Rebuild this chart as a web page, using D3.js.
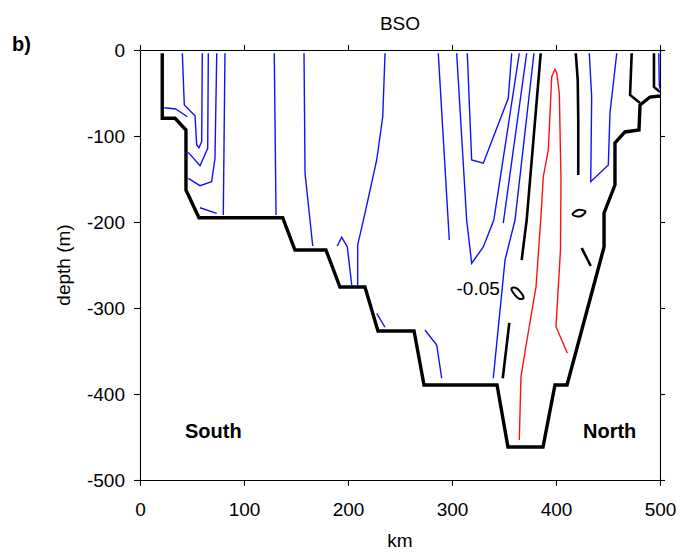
<meta charset="utf-8">
<html>
<head>
    <script src="https://d3js.org/d3.v7.min.js"></script>
    <style>
        body { margin: 0; background: #fff; }
        text { font-family: "Liberation Sans", Arial, sans-serif; }
    </style>
</head>
<body>
    <div id="chart"></div>
    <script>
        // axis ticks
        const xTicks = [0, 100, 200, 300, 400, 500];
        const yTicks = [0, -100, -200, -300, -400, -500];

        // bottom topography along the section [km, depth]
        const bathy = [
            [21.4, -3.8], [21.4, -79.4], [33.7, -79.4], [44.2, -93], [44.2, -162.8],
            [56.7, -195], [137.2, -195], [149, -232.6], [178.8, -232.6], [192.3, -275.6],
            [216.3, -275.6], [228.8, -326.7], [263.5, -326.7], [273.1, -389.5], [343.3, -389.5],
            [353.8, -461.6], [387.5, -461.6], [399, -389.5], [410.6, -389.5], [446.2, -229.1],
            [446.2, -189.5], [456.7, -157], [456.7, -108.1], [466.3, -95.3], [479.8, -93],
            [480.8, -64], [490.4, -54.7], [500, -53.5]
        ];

        // negative contours (blue)
        const blueLines = [
            [[40.7, -3.8], [42.6, -64], [52.9, -76.4], [54.5, -110.5], [56.7, -113.6], [59.3, -106.6], [59.9, -3.8]],
            [[65.7, -3.8], [65.1, -114.3], [57.7, -134.5], [46.4, -119]],
            [[73.8, -3.8], [72.1, -125.9], [68.9, -153.1], [57.7, -157.8], [46.4, -149.2]],
            [[23.4, -67.1], [34.3, -68.6], [45.5, -77.6]],
            [[81.7, -3.8], [80.1, -191.9]],
            [[57.7, -183.4], [73.8, -189.9]],
            [[129.1, -3.8], [130.8, -191.9]],
            [[157.7, -3.8], [158.7, -143.4], [166.1, -227.9]],
            [[235.6, -3.8], [233.4, -77.6], [227.6, -127.9], [216.3, -189.9], [209.3, -226.7], [209.3, -273.3]],
            [[189.7, -227.9], [193.9, -217.8], [199.3, -228.7], [203.6, -273.3]],
            [[227.6, -306.2], [235.6, -322.4]],
            [[274, -325.6], [285.3, -343], [290.1, -381.7]],
            [[286.8, -3.8], [297.4, -220.9]],
            [[304.5, -3.8], [314.1, -197.7], [318.9, -248], [330.1, -229.1], [340.2, -197.7], [364.7, -3.8]],
            [[314.7, -3.8], [318.9, -127.9], [330.1, -131.7], [354.1, -56.2], [357.4, -3.8]],
            [[371.8, -3.8], [349.3, -201.2]],
            [[378.8, -3.8], [360.6, -197.7], [351, -244.2], [346.2, -302.3], [339.7, -381.7]],
            [[432, -3.8], [434.3, -54.7], [433.4, -153.1], [450.3, -133.7], [451.9, -73.3], [458.4, -3.8]],
            [[498.8, -3.8], [499.3, -40.7], [500, -45.3]]
        ];

        // positive contour (red)
        const redLine = [
            [364.7, -453.5], [366.3, -379.9], [372.1, -337.2], [380.8, -275.2], [385.3, -197.7],
            [387.8, -147.3], [392.6, -116.3], [395.9, -31], [399, -22.4], [400.7, -26.7],
            [403.2, -50.3], [404.8, -151.2], [404.3, -232.6], [400, -321.7], [410.9, -352.7]
        ];

        // zero contour pieces (black)
        const blackLines = [
            [[385.3, -3.8], [371.8, -197.7], [367, -244.2]],
            [[355.1, -317.4], [348.8, -381.7]],
            [[419, -3.8], [420.9, -34.9], [421.4, -81.4], [421.4, -145.3]],
            [[424.7, -230.2], [433.4, -251.2]],
            [[472.8, -3.8], [471.2, -52.3], [480.8, -61.6]],
            [[494.2, -3.8], [494.2, -43], [500, -48.8]]
        ];
        const blackLoops = [
            [[357.2, -277.3], [361.5, -276.7], [366.8, -283.1], [368.8, -288.4], [364.4, -289], [359.1, -282.6]],
            [[415.9, -191.3], [421.2, -186], [428.4, -187.8], [423.1, -193.6]]
        ];

        const W = 681, H = 552;
        const margin = { top: 50, right: 21, bottom: 72, left: 140 },
            width = W - margin.left - margin.right,
            height = H - margin.top - margin.bottom;

        const svg = d3.select("#chart").append("svg")
            .attr("width", W).attr("height", H);
        const g = svg.append("g")
            .attr("transform", "translate(" + margin.left + "," + margin.top + ")");

        const x = d3.scaleLinear().domain([0, 500]).range([0, width]);
        const y = d3.scaleLinear().domain([-500, 0]).range([height, 0]);

        const line = d3.line().x(d => x(d[0])).y(d => y(d[1]));
        const loop = d3.line().x(d => x(d[0])).y(d => y(d[1])).curve(d3.curveCardinalClosed);

        // frame with ticks on all sides (plain hyphen for negatives)
        const fontSize = 19;
        const plain = d => String(d);
        g.append("g").attr("transform", `translate(0,${height})`)
            .call(d3.axisBottom(x).tickValues(xTicks).tickFormat(plain).tickSize(6).tickSizeOuter(0).tickPadding(17))
            .attr("font-size", fontSize).attr("font-family", "Liberation Sans, Arial, sans-serif");
        g.append("g")
            .call(d3.axisLeft(y).tickValues(yTicks).tickFormat(plain).tickSize(6).tickSizeOuter(0).tickPadding(9))
            .attr("font-size", fontSize).attr("font-family", "Liberation Sans, Arial, sans-serif");
        g.append("g")
            .call(d3.axisTop(x).tickValues(xTicks).tickSize(5).tickSizeOuter(0).tickFormat(""));
        g.append("g").attr("transform", `translate(${width},0)`)
            .call(d3.axisRight(y).tickValues(yTicks).tickSize(5).tickSizeOuter(0).tickFormat(""));
        g.selectAll(".domain, .tick line").attr("stroke", "#000").attr("stroke-width", 1.1);
        g.selectAll(".tick text").attr("fill", "#000");

        // contours
        g.append("g").selectAll("path").data(blueLines).enter().append("path")
            .attr("d", line).attr("fill", "none").attr("stroke", "#1010ff").attr("stroke-width", 1.4);
        g.append("path").datum(redLine)
            .attr("d", line).attr("fill", "none").attr("stroke", "#ff1010").attr("stroke-width", 1.4);
        g.append("g").selectAll("path").data(blackLines).enter().append("path")
            .attr("d", line).attr("fill", "none").attr("stroke", "#000").attr("stroke-width", 2.6);
        g.append("g").selectAll("path").data(blackLoops).enter().append("path")
            .attr("d", loop).attr("fill", "none").attr("stroke", "#000").attr("stroke-width", 2);

        // topography
        g.append("path").datum(bathy)
            .attr("d", line).attr("fill", "none").attr("stroke", "#000")
            .attr("stroke-width", 3.4).attr("stroke-linejoin", "miter");

        // contour label
        g.append("text").attr("x", x(346)).attr("y", y(-277)).attr("dy", "0.35em")
            .attr("text-anchor", "end").attr("font-size", fontSize).text("-0.05");

        // South / North
        g.append("text").attr("x", 45).attr("y", 388).attr("font-size", 20)
            .attr("font-weight", "bold").text("South");
        g.append("text").attr("x", 443).attr("y", 388).attr("font-size", 20)
            .attr("font-weight", "bold").text("North");

        // titles
        svg.append("text").attr("x", margin.left + width / 2).attr("y", 30)
            .attr("text-anchor", "middle").attr("font-size", fontSize).text("BSO");
        svg.append("text").attr("x", 12).attr("y", 51)
            .attr("font-size", 20).attr("font-weight", "bold").text("b)");
        svg.append("text").attr("x", margin.left + width / 2).attr("y", 547)
            .attr("text-anchor", "middle").attr("font-size", fontSize).text("km");
        svg.append("text")
            .attr("transform", `translate(70,${margin.top + height / 2}) rotate(-90)`)
            .attr("text-anchor", "middle").attr("font-size", fontSize).text("depth (m)");
    </script>
</body>
</html>
